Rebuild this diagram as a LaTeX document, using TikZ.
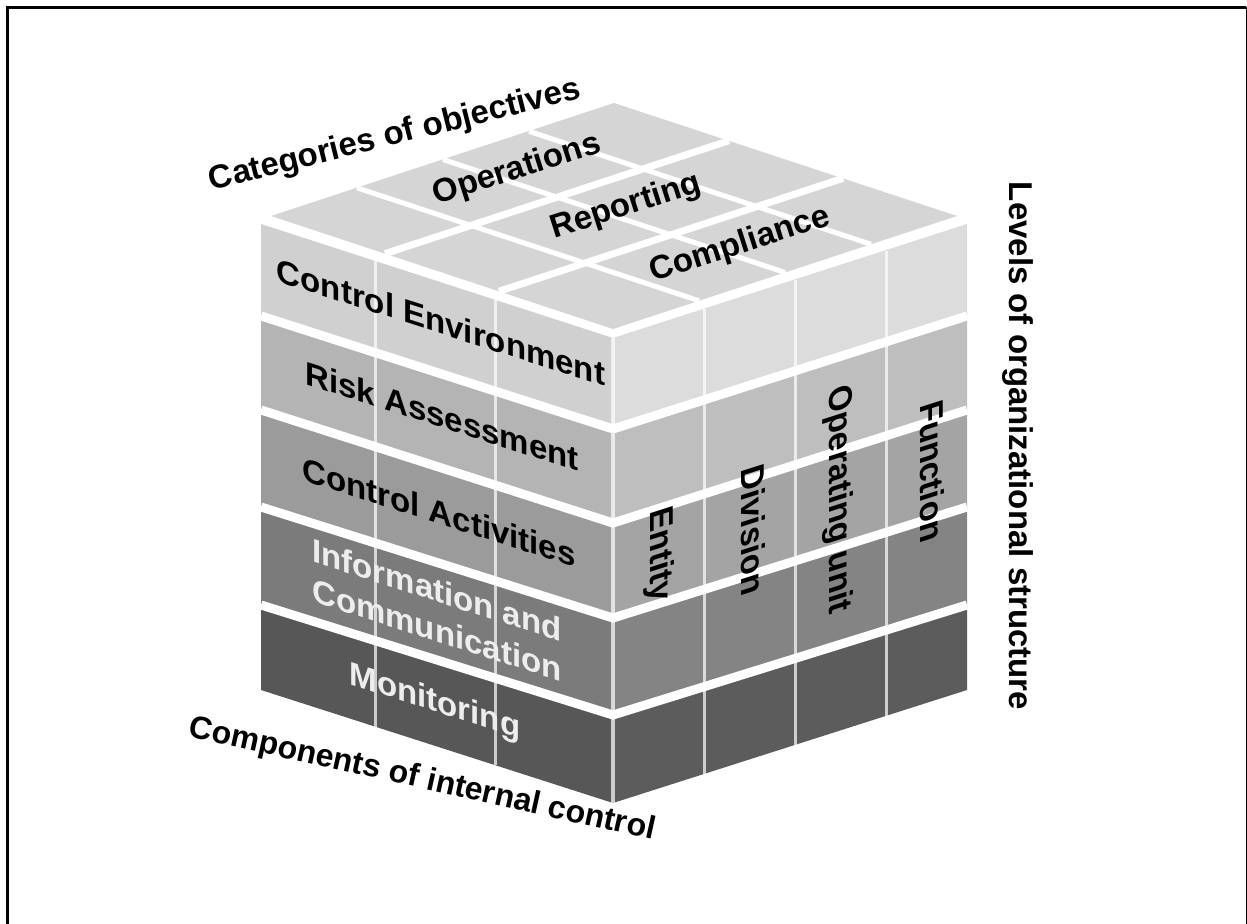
\documentclass[tikz,border=0pt]{standalone}
\usepackage{fontspec}
\setmainfont{Liberation Sans}

\definecolor{topgray}{HTML}{D5D5D5}
\definecolor{lce}{HTML}{D0D0D0}
\definecolor{lra}{HTML}{B4B4B4}
\definecolor{lca}{HTML}{9B9B9B}
\definecolor{lic}{HTML}{7B7B7B}
\definecolor{lmo}{HTML}{575757}
\definecolor{rce}{HTML}{DCDCDC}
\definecolor{rra}{HTML}{BEBEBE}
\definecolor{rca}{HTML}{A4A4A4}
\definecolor{ric}{HTML}{848484}
\definecolor{rmo}{HTML}{5C5C5C}
\definecolor{paletext}{HTML}{EDEDED}

\begin{document}
\begin{tikzpicture}[x=0.5pt, y=-0.5pt,
    axistext/.style ={font=\bfseries\fontsize{16.5}{19}\selectfont, inner sep=0pt},
    facetext/.style ={font=\bfseries\fontsize{16.5}{20}\selectfont, inner sep=0pt, align=center, yslant=-0.32},
    sidetext/.style ={font=\bfseries\fontsize{16.5}{19}\selectfont, inner sep=0pt, cm={0,-1,1,0.32,(0,0)}},
    toptext/.style ={font=\bfseries\fontsize{16.5}{19}\selectfont, inner sep=0pt, rotate=17.7},
    gapline/.style ={white, line width=4.5pt},
    seamline/.style ={white, opacity=0.7, line width=1.5pt}]
   \useasboundingbox (0,0) rectangle (1247,924);
   % frame
   \draw[line width=1.5pt] (7.5,924) -- (7.5,7.5) -- (1246,7.5);
   \draw[line width=0.5pt] (1246,7.5) -- (1246,924);

   % left face: components
   \fill[lce] (261,224) -- (613,338) -- (613,429) -- (261,316) -- cycle;
   \fill[lra] (261,316) -- (613,429) -- (613,523) -- (261,410) -- cycle;
   \fill[lca] (261,410) -- (613,523) -- (613,618) -- (261,507) -- cycle;
   \fill[lic] (261,507) -- (613,618) -- (613,715) -- (261,605) -- cycle;
   \fill[lmo] (261,605) -- (613,715) -- (613,803) -- (261,690) -- cycle;
   % right face: levels
   \fill[rce] (613,338) -- (967,224) -- (967,316) -- (613,429) -- cycle;
   \fill[rra] (613,429) -- (967,316) -- (967,410) -- (613,523) -- cycle;
   \fill[rca] (613,523) -- (967,410) -- (967,507) -- (613,618) -- cycle;
   \fill[ric] (613,618) -- (967,507) -- (967,605) -- (613,715) -- cycle;
   \fill[rmo] (613,715) -- (967,605) -- (967,690) -- (613,803) -- cycle;

   % column seams
   \draw[seamline] (375,261) -- (375,727);
   \draw[seamline] (495,300) -- (495,765);
   \draw[seamline] (704,309) -- (704,774);
   \draw[seamline] (795,280) -- (795,745);
   \draw[seamline] (886,251) -- (886,716);
   \draw[seamline, line width=2pt] (613,338) -- (613,803);

   % gaps between components
   \draw[gapline] (261,316) -- (613,429) -- (967,316);
   \draw[gapline] (261,410) -- (613,523) -- (967,410);
   \draw[gapline] (261,507) -- (613,618) -- (967,507);
   \draw[gapline] (261,605) -- (613,715) -- (967,605);

   % top face: objectives
   \fill[topgray] (271,216) -- (614,103) -- (957,216) -- (613,329) -- cycle;
   \draw[gapline, line width=3.5pt] (499,291.3) -- (843,178.3);
   \draw[gapline, line width=3.5pt] (385,253.7) -- (729,140.7);
   \draw[gapline, line width=2.5pt] (699,300.8) -- (357,187.8);
   \draw[gapline, line width=2.5pt] (785,272.5) -- (443,159.5);
   \draw[gapline, line width=2.5pt] (871,244.3) -- (529,131.3);

   % texts
   \node[axistext, rotate=14] (cat) at (395,136) {Categories of objectives};
   \node[axistext, rotate=-90] (levels) at (1018,446) {Levels of organizational structure};
   \node[axistext, font=\bfseries\fontsize{16}{19}\selectfont, rotate=-12.5] (comp) at (422,780) {Components of internal control};

   \node[toptext] (ops) at (517,170) {Operations};
   \node[toptext] (rep) at (626,207) {Reporting};
   \node[toptext] (compl) at (740,245) {Compliance};

   \node[facetext] (ce) at (441,322) {Control Environment};
   \node[facetext] (ra) at (442,416) {Risk Assessment};
   \node[facetext] (ca) at (439,512) {Control Activities};
   \node[facetext, text=paletext] (ic) at (437,610) {Information and\\Communication};
   \node[facetext, text=paletext] (mon) at (435,703) {Monitoring};

   \node[sidetext] (ent) at (659,555) {Entity};
   \node[sidetext] (div) at (753,530) {Division};
   \node[sidetext] (opu) at (838,500) {Operating unit};
   \node[sidetext] (fun) at (932,471) {Function};
 \end{tikzpicture}
\end{document}
